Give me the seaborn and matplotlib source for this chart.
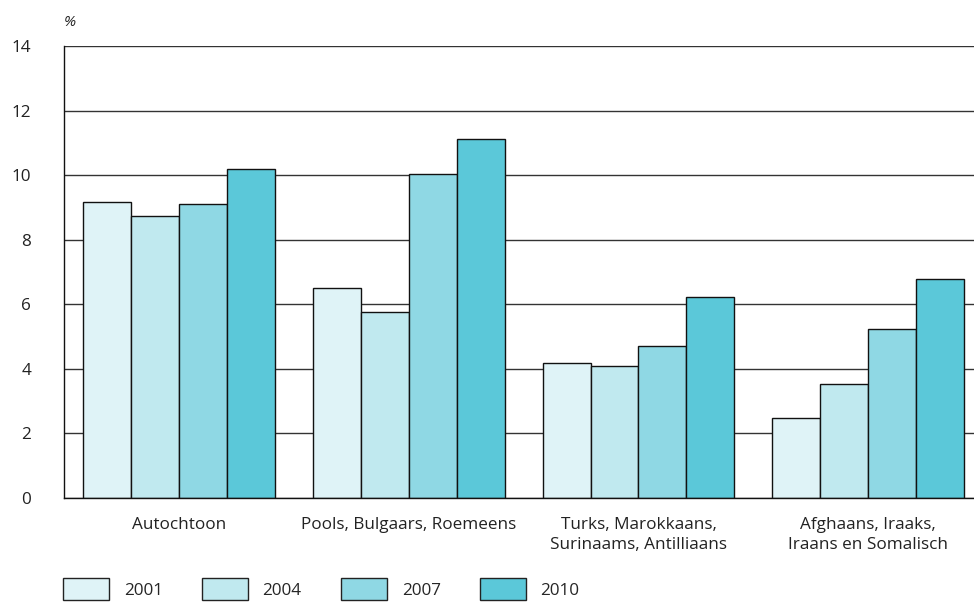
import matplotlib
matplotlib.use("Agg")
import matplotlib.pyplot as plt
import seaborn as sns
import pandas as pd
from matplotlib.patches import Patch

categories = ["Autochtoon", "Pools, Bulgaars, Roemeens",
              "Turks, Marokkaans,\nSurinaams, Antilliaans",
              "Afghaans, Iraaks,\nIraans en Somalisch"]
years = ["2001", "2004", "2007", "2010"]
v2001 = [9.16, 6.50, 4.18, 2.48]
v2004 = [8.73, 5.76, 4.09, 3.53]
v2007 = [9.10, 10.03, 4.71, 5.23]
v2010 = [10.19, 11.11, 6.22, 6.78]
yticks = [0, 2, 4, 6, 8, 10, 12, 14]
colors = ["#dff3f7", "#c0e9ef", "#8fd8e4", "#5bc8d9"]

rows = []
for y, vals in zip(years, [v2001, v2004, v2007, v2010]):
    for c, v in zip(categories, vals):
        rows.append({"cat": c, "year": y, "val": v})
df = pd.DataFrame(rows)

sns.set_theme(style="white")
plt.rcParams["font.family"] = ["Open Sans", "DejaVu Sans"]

FS = 12.3
fig = plt.figure(figsize=(9.74, 6.02), dpi=100)
ax = fig.add_axes([64/974, 1-498/602, 910/974, (498-46)/602])
sns.barplot(data=df, x="cat", y="val", hue="year", palette=colors,
            order=categories, hue_order=years, width=0.835,
            edgecolor="#111111", linewidth=1.0, saturation=1, ax=ax, legend=False)
ax.set_xlim(-0.5, 3.46)
ax.set_ylim(0, 14)
ax.set_yticks(yticks)
ax.set_yticklabels([str(t) for t in yticks], fontsize=FS, color="#222222")
ax.tick_params(axis="y", length=0, pad=23.5)
ax.tick_params(axis="x", length=0, pad=14, labelsize=FS, colors="#222222")
for lab in ax.get_xticklabels():
    lab.set_linespacing(1.3)
ax.set_xlabel("")
ax.set_ylabel("")
ax.yaxis.grid(True, color="#333333", linewidth=1.0)
ax.set_axisbelow(True)
for s in ["top", "right"]:
    ax.spines[s].set_visible(False)
for s in ["left", "bottom"]:
    ax.spines[s].set_color("#111111")
    ax.spines[s].set_linewidth(1.0)
fig.text(64/974, 1-22/602, "%", fontsize=11, style="italic", color="#222222",
         va="center", ha="left")

handles = [Patch(facecolor=c, edgecolor="#222222", linewidth=1.0) for c in colors]
fig.legend(handles, years, loc="lower left", bbox_to_anchor=(63/974, 2/602),
           ncol=4, frameon=False, fontsize=FS, handlelength=2.7, handleheight=1.6,
           handletextpad=0.85, columnspacing=2.3, borderpad=0, borderaxespad=0)

fig.savefig("out.png", dpi=100)
